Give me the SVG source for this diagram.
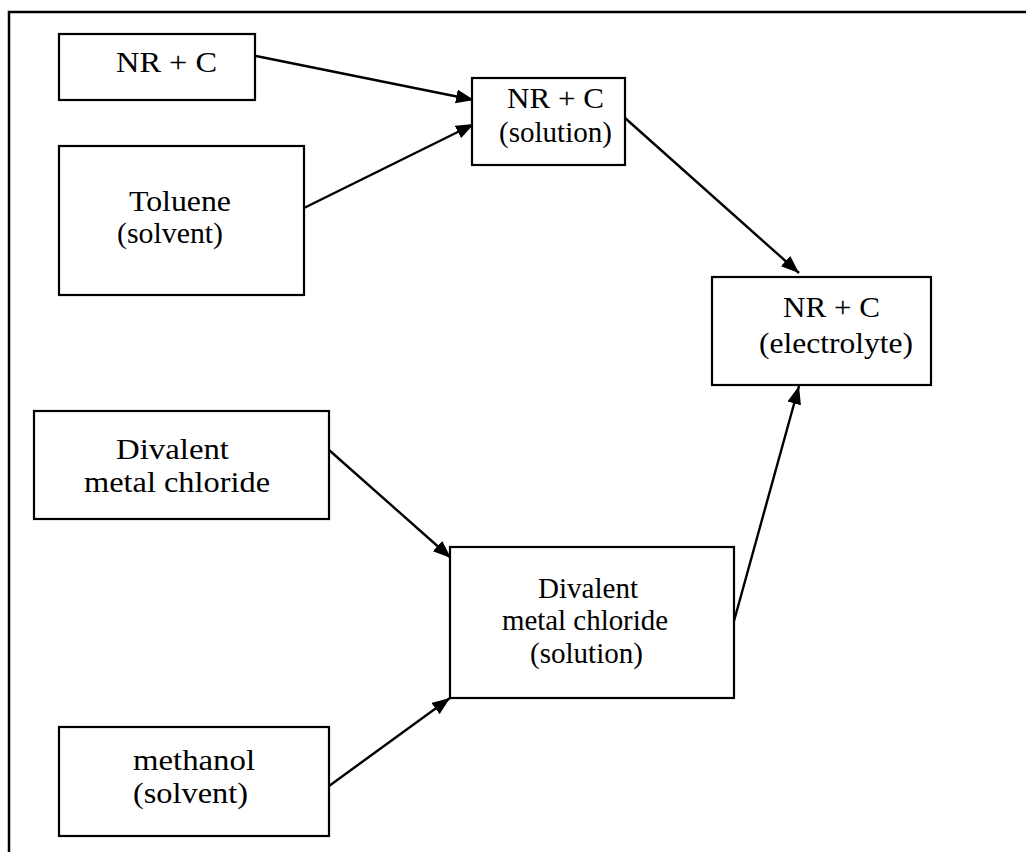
<svg xmlns="http://www.w3.org/2000/svg" width="1026" height="852" viewBox="0 0 1026 852">
<style>
  .box { fill: #ffffff; stroke: #000000; stroke-width: 2.2; }
  .frame { fill: none; stroke: #000000; stroke-width: 2.5; }
  .lbl { font-family: "Liberation Serif", "Times New Roman", Times, serif; font-size: 30px; fill: #000000; }
  .edge { fill: none; stroke: #000000; stroke-width: 2.4; }
</style>
<defs>
  <marker id="arrow" markerUnits="userSpaceOnUse" markerWidth="20" markerHeight="16" refX="18" refY="7" orient="auto">
    <path d="M0,0 L18,7 L0,14 z" fill="#000000"/>
  </marker>
</defs>
<rect x="0" y="0" width="1026" height="852" fill="#ffffff"/>
<g id="frame">
  <path class="frame" d="M9,852 L9,12 L1026,12"/>
</g>
<g id="connectors">
  <line class="edge" x1="256" y1="56" x2="474" y2="100" marker-end="url(#arrow)"/>
  <line class="edge" x1="304" y1="208" x2="474" y2="124" marker-end="url(#arrow)"/>
  <line class="edge" x1="625" y1="118" x2="799" y2="273" marker-end="url(#arrow)"/>
  <line class="edge" x1="734" y1="621" x2="799" y2="386" marker-end="url(#arrow)"/>
  <line class="edge" x1="329" y1="450" x2="451" y2="558" marker-end="url(#arrow)"/>
  <line class="edge" x1="329" y1="786" x2="450" y2="698" marker-end="url(#arrow)"/>
</g>
<g id="node-nrc">
  <rect class="box" x="59" y="34" width="196" height="66"/>
  <text class="lbl" x="116" y="72" textLength="101" lengthAdjust="spacingAndGlyphs">NR + C</text>
</g>
<g id="node-toluene">
  <rect class="box" x="59" y="146" width="245" height="149"/>
  <text class="lbl" x="129" y="211" textLength="102" lengthAdjust="spacingAndGlyphs">Toluene</text>
  <text class="lbl" x="117" y="243" textLength="106" lengthAdjust="spacingAndGlyphs">(solvent)</text>
</g>
<g id="node-nrc-solution">
  <rect class="box" x="472" y="78" width="153" height="87"/>
  <text class="lbl" x="507" y="108" textLength="97" lengthAdjust="spacingAndGlyphs">NR + C</text>
  <text class="lbl" x="499" y="142" textLength="113" lengthAdjust="spacingAndGlyphs">(solution)</text>
</g>
<g id="node-nrc-electrolyte">
  <rect class="box" x="712" y="277" width="219" height="108"/>
  <text class="lbl" x="783" y="317" textLength="97" lengthAdjust="spacingAndGlyphs">NR + C</text>
  <text class="lbl" x="759" y="353" textLength="154" lengthAdjust="spacingAndGlyphs">(electrolyte)</text>
</g>
<g id="node-dmc">
  <rect class="box" x="34" y="411" width="295" height="108"/>
  <text class="lbl" x="116" y="459" textLength="113" lengthAdjust="spacingAndGlyphs">Divalent</text>
  <text class="lbl" x="84" y="492" textLength="186" lengthAdjust="spacingAndGlyphs">metal chloride</text>
</g>
<g id="node-methanol">
  <rect class="box" x="59" y="727" width="270" height="109"/>
  <text class="lbl" x="133" y="770" textLength="122" lengthAdjust="spacingAndGlyphs">methanol</text>
  <text class="lbl" x="133" y="803" textLength="115" lengthAdjust="spacingAndGlyphs">(solvent)</text>
</g>
<g id="node-dmc-solution">
  <rect class="box" x="450" y="547" width="284" height="151"/>
  <text class="lbl" x="538" y="598" textLength="100" lengthAdjust="spacingAndGlyphs">Divalent</text>
  <text class="lbl" x="502" y="630" textLength="166" lengthAdjust="spacingAndGlyphs">metal chloride</text>
  <text class="lbl" x="530" y="663" textLength="113" lengthAdjust="spacingAndGlyphs">(solution)</text>
</g>
</svg>
